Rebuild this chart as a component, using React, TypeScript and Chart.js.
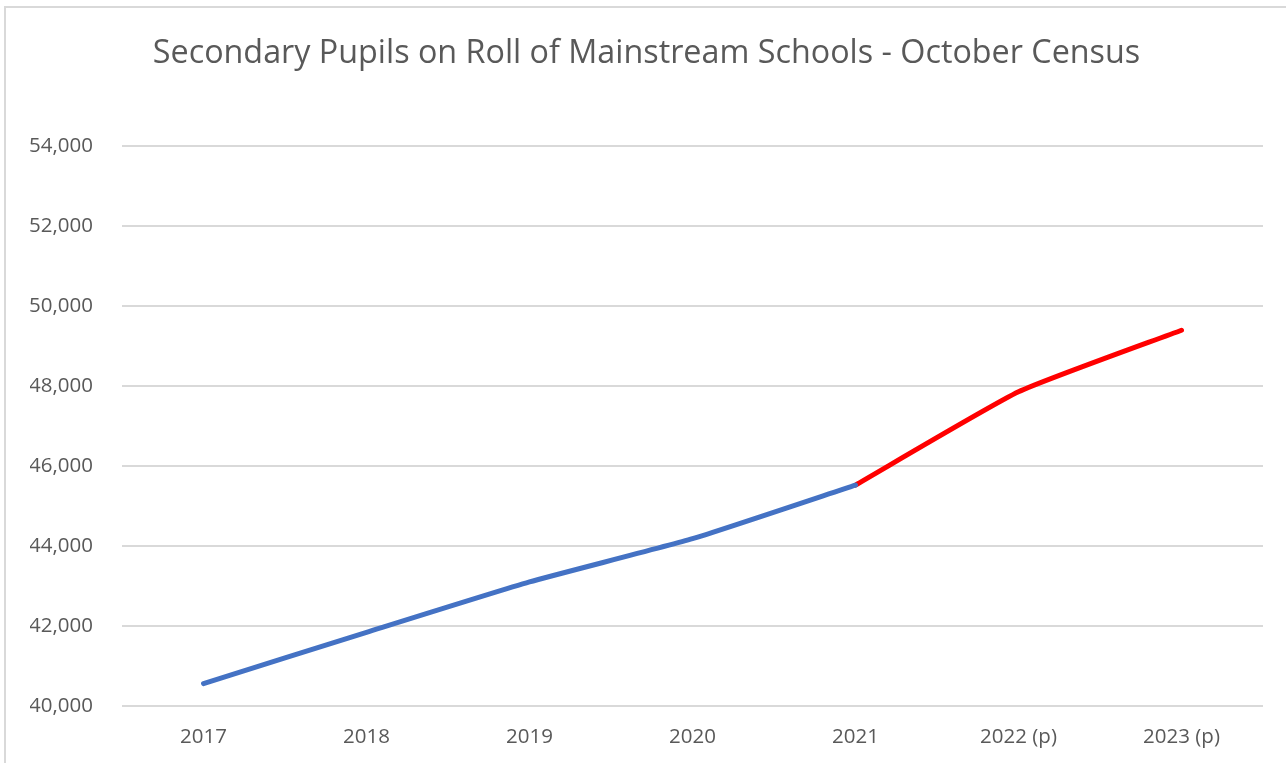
import React, { useEffect, useRef } from "react";
import { Chart, registerables } from "chart.js";

Chart.register(...registerables);

const categories = ["2017", "2018", "2019", "2020", "2021", "2022 (p)", "2023 (p)"];
const actualPupils = [40560, 41840, 43100, 44180, 45520, null, null];
const projectedPupils = [null, null, null, null, 45520, 47850, 49390];
const yTickMin = 40000;
const yTickMax = 54000;
const yTickStep = 2000;
const titleText = "Secondary Pupils on Roll of Mainstream Schools - October Census";

export default function App() {
  const canvasRef = useRef<HTMLCanvasElement | null>(null);

  useEffect(() => {
    if (!canvasRef.current) return;
    const chart = new Chart(canvasRef.current, {
      type: "line",
      data: {
        labels: categories,
        datasets: [
          {
            label: "Actual",
            data: actualPupils,
            borderColor: "#4472C4",
            backgroundColor: "#4472C4",
            borderWidth: 5,
            borderCapStyle: "round",
            borderJoinStyle: "round",
            pointRadius: 0,
            tension: 0.15,
            spanGaps: false,
          },
          {
            label: "Projected",
            data: projectedPupils,
            borderColor: "#FF0000",
            backgroundColor: "#FF0000",
            borderWidth: 5,
            borderCapStyle: "round",
            borderJoinStyle: "round",
            pointRadius: 0,
            tension: 0.15,
            spanGaps: false,
          },
        ],
      },
      options: {
        animation: false,
        responsive: false,
        maintainAspectRatio: false,
        layout: { padding: { left: 30, right: 23, top: 0, bottom: 0 } },
        plugins: {
          legend: { display: false },
          tooltip: { enabled: false },
          title: {
            display: true,
            text: titleText,
            color: "#595959",
            font: { family: "'Open Sans', sans-serif", size: 32.3, weight: "normal", lineHeight: 1.2 },
            padding: { top: 34, bottom: 73 },
          },
        },
        scales: {
          x: {
            offset: true,
            grid: { display: false, drawTicks: false },
            border: { display: false },
            ticks: {
              color: "#595959",
              font: { family: "'Open Sans', sans-serif", size: 20.5 },
              padding: 19,
              maxRotation: 0,
              autoSkip: false,
            },
            afterFit: (axis: any) => {
              axis.height = 57;
            },
          },
          y: {
            min: yTickMin,
            max: yTickMax,
            grid: { color: "#d9d9d9", lineWidth: 2, drawTicks: false },
            border: { display: false },
            ticks: {
              stepSize: yTickStep,
              color: "#595959",
              font: { family: "'Open Sans', sans-serif", size: 20.5 },
              padding: 29,
              callback: (v: any) => Number(v).toLocaleString("en-US"),
            },
            afterFit: (axis: any) => {
              axis.width = 92;
            },
          },
        },
      },
    });
    return () => chart.destroy();
  }, []);

  return (
    <div
      style={{
        position: "absolute",
        left: 0,
        top: 0,
        width: 1286,
        height: 763,
        background: "#ffffff",
        overflow: "hidden",
      }}
    >
      <div
        style={{
          position: "absolute",
          left: 4,
          top: 6,
          width: 1400,
          height: 900,
          borderLeft: "2px solid #d9d9d9",
          borderTop: "2px solid #d9d9d9",
        }}
      />
      <canvas ref={canvasRef} width={1286} height={763} style={{ position: "absolute", left: 0, top: 0 }} />
    </div>
  );
}
